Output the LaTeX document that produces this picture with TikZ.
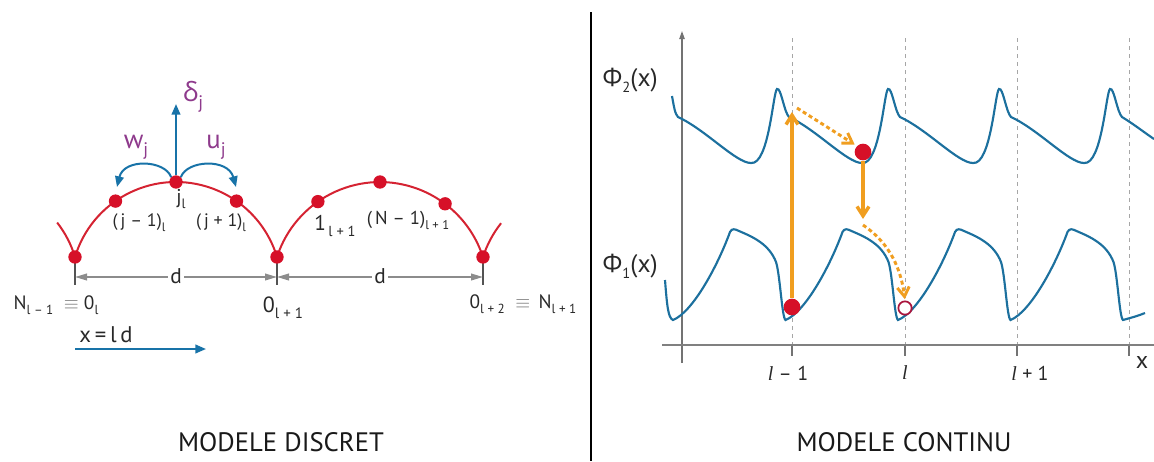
\documentclass[tikz,border=0pt]{standalone}
\usepackage{fontspec}
\usepackage{graphicx}
\setmainfont{PT Sans}
\newfontfamily\grk{Open Sans}
\newfontfamily\serifit{Liberation Serif}
\usetikzlibrary{arrows.meta,calc}
\definecolor{redarc}{RGB}{213,35,50}
\definecolor{reddot}{RGB}{214,16,40}
\definecolor{ablue}{RGB}{24,115,168}
\definecolor{cblue}{RGB}{28,112,158}
\definecolor{lilac}{RGB}{142,58,140}
\definecolor{dimgray}{RGB}{140,140,140}
\definecolor{txt}{RGB}{40,40,40}
\definecolor{orng}{RGB}{240,158,32}
\definecolor{ringred}{RGB}{170,20,60}
\newcommand\sbs[1]{\raisebox{-0.55ex}{\scalebox{0.68}{#1}}}
\newcommand\fs[1]{\fontsize{#1}{#1}\selectfont}
\begin{document}
\begin{tikzpicture}[x=0.75pt,y=-0.75pt,
  every node/.style={inner sep=0pt, text=txt},
  dot/.style={circle, fill=reddot, minimum size=10pt},
  bigdot/.style={circle, fill=reddot, minimum size=12.5pt},
  ringdot/.style={circle, draw=ringred, line width=1.3pt, fill=white, minimum size=10pt},
  arcline/.style={draw=redarc, line width=1.5pt},
  bluearrow/.style={draw=ablue, line width=1.5pt, -{Triangle[length=8pt,width=6.5pt]}},
  dimarrow/.style={draw=dimgray, line width=1.3pt, {Triangle[length=9pt,width=5pt]}-{Triangle[length=9pt,width=5pt]}},
  tickline/.style={draw=txt!80, line width=0.9pt},
  phi/.style={draw=cblue, line width=1.6pt},
  orsolid/.style={draw=orng, line width=2.6pt, -{Straight Barb[length=7pt,width=9pt]}},
  ordot/.style={draw=orng, line width=2.2pt, dash pattern=on 3pt off 2.2pt, -{Straight Barb[length=7pt,width=9pt]}},
  grid/.style={draw=black!35, line width=0.7pt, dash pattern=on 3pt off 3pt},
  purp/.style={text=lilac, font=\fs{20}},
  title/.style={text=black!90, font=\fs{20}}
]
\useasboundingbox (0,0) rectangle (1154,461);

% ---------------- left panel ----------------
\draw[arcline] (75,257) arc[start angle=-163.2, end angle=-16.8, radius=105.5];
\draw[arcline] (277,257) arc[start angle=-162.1, end angle=-17.9, radius=108.2];
\draw[arcline] (75,257) arc[start angle=-16.8, end angle=-38, radius=105.5];
\draw[arcline] (483,257) arc[start angle=-162.1, end angle=-141.7, radius=108.2];

\coordinate (t1) at (75,285);
\coordinate (t2) at (277,285);
\coordinate (t3) at (483,285);
\draw[tickline] (75,257) -- (t1);
\draw[tickline] (277,257) -- (t2);
\draw[tickline] (483,257) -- (t3);

\node[dot] (e0) at (75,257) {};
\node[dot] (e1) at (277,257) {};
\node[dot] (e2) at (483,257) {};
\node[dot] (jm) at (115.5,201.1) {};
\node[dot] (j) at (176,182) {};
\node[dot] (jp) at (236.5,201.1) {};
\node[dot] (k1) at (317.9,201.6) {};
\node[dot] (ktop) at (380,182) {};
\node[dot] (kn) at (445.1,203.8) {};

\coordinate (dtop) at (176,104);
\coordinate (wl) at (117,187);
\coordinate (ur) at (236,187);
\draw[bluearrow] (j.north) -- (dtop);
\draw[bluearrow] (j.north west) .. controls (165,160) and (124,158) .. (wl);
\draw[bluearrow] (j.north east) .. controls (187,160) and (228,158) .. (ur);

\node[purp] (delta) at (193,97) {{\grk δ}\sbs{j}};
\node[purp] (w) at (136,147) {w\sbs{j}};
\node[purp] (u) at (216,147) {u\sbs{j}};

\node[font=\fs{15}] (jl) at (181,199) {j\sbs{l}};
\node[font=\fs{13.5}] (ljm) at (139,223) {(\,j -- 1)\sbs{l}};
\node[font=\fs{13.5}] (ljp) at (221,223) {(\,j + 1)\sbs{l}};
\node[font=\fs{16}] (l1) at (335,226) {1\sbs{\,l + 1}};
\node[font=\fs{14}] (lN) at (408,220) {(\,N -- 1)\sbs{l + 1}};

\coordinate (d1a) at (75,277);
\coordinate (d1b) at (277,277);
\coordinate (d2a) at (277,277);
\coordinate (d2b) at (483,277);
\draw[dimarrow] (d1a) -- (d1b);
\draw[dimarrow] (d2a) -- (d2b);
\node[font=\fs{16}, fill=white, inner xsep=2pt] (dA) at (176,276) {d};
\node[font=\fs{16}, fill=white, inner xsep=2pt] (dB) at (380,276) {d};

\node[font=\fs{14.5}] (n0) at (56,305) {N\sbs{l -- 1}\; {\color{black!55}$\equiv$} 0\sbs{l}};
\node[font=\fs{16.5}] (n1) at (283,308) {0\sbs{l + 1}};
\node[font=\fs{14.5}] (n2) at (523,304) {0\sbs{l + 2}\; {\color{black!55}$\equiv$}\, N\sbs{l + 1}};

\node[font=\fs{17}] (xld) at (106,335) {x\,=\,l\,d};
\coordinate (xa) at (75,349);
\coordinate (xb) at (206,349);
\draw[bluearrow] (xa) -- (xb);

\node[title] (t1txt) at (281,442) {MODELE DISCRET};

\draw[black, line width=1.2pt] (591,12) -- (591,461);

% ---------------- right panel ----------------
\foreach \gx in {792,905,1017,1129} {
  \draw[grid] (\gx,38) -- (\gx,345);
  \draw[draw=black!55, line width=0.9pt] (\gx,345) -- (\gx,356);
}
\coordinate (yb) at (682,363);
\coordinate (yt) at (682,31);
\draw[draw=black!55, line width=1pt, -{Triangle[length=6pt,width=4pt]}] (yb) -- (yt);
\coordinate (xl) at (662,345);
\coordinate (xr) at (1154,345);
\draw[draw=black!50, line width=1.3pt] (xl) -- (xr);

\draw[phi] (672,96) .. controls (674,107) and (675,114) .. (678,117)
  \foreach \p in {666,777,888,999} {
    .. controls (\p+40,130) and (\p+70,163) .. (\p+85,163)
    .. controls (\p+103,165) and (\p+107,92) .. (\p+111,89)
    .. controls (\p+115,87) and (\p+118,112) .. (\p+123,117)
  }
  .. controls (1135,125) and (1145,133) .. (1154,139);

\draw[phi] (665,280) .. controls (667,305) and (668,318) .. (673,320)
  \foreach \m in {673,785.5,898,1010.5} {
    .. controls (\m+20,312) and (\m+45,265) .. (\m+57,232)
    .. controls (\m+59,228) and (\m+62,229) .. (\m+66,231)
    .. controls (\m+80,237) and (\m+96,244) .. (\m+103,262)
    .. controls (\m+107,274) and (\m+109,318) .. (\m+112.5,320)
  }
  .. controls (1130,318) and (1138,316) .. (1145,313);

\node (phi2) at (630,80) {{\grk\fs{19}Φ}\raisebox{-0.9ex}{\fs{11}2}{\fs{19}(x)}};
\node (phi1) at (630,266) {{\grk\fs{19}Φ}\raisebox{-0.9ex}{\fs{11}1}{\fs{19}(x)}};
\node[font=\fs{15}] (lm) at (788,373) {{\serifit\itshape l} -- 1};
\node[font=\fs{15}] (l0) at (905,373) {{\serifit\itshape l}};
\node[font=\fs{15}] (lp) at (1030,373) {{\serifit\itshape l} + 1};
\node[font=\fs{18}] (xlab) at (1142,362) {x};

\node[bigdot] (dot1) at (792,307) {};
\node[bigdot] (dot2) at (863,152) {};
\node[ringdot] (ring) at (905,308) {};
\coordinate (a1) at (792,112);
\coordinate (a1s) at (797,108);
\coordinate (a2) at (863,219);
\coordinate (a3) at (863,225);
\draw[orsolid] (dot1.north) -- (a1);
\draw[ordot, shorten >=2pt] (a1s) -- (dot2.north west);
\draw[orsolid] (dot2.south) -- (a2);
\draw[ordot, shorten >=1pt] (a3) .. controls (885,240) and (900,262) .. (ring.north);

\node[title] (t2txt) at (904,442) {MODELE CONTINU};
\end{tikzpicture}
\end{document}
